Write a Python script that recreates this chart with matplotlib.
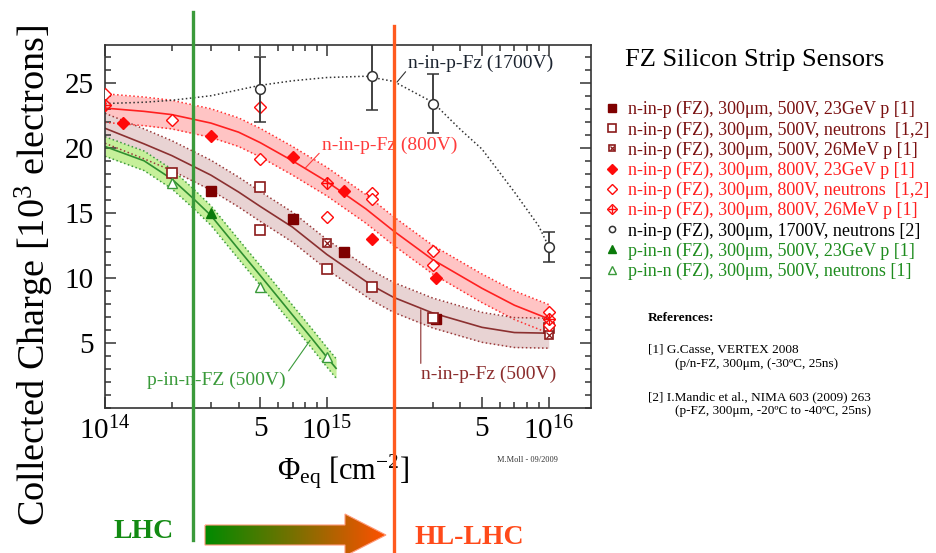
import matplotlib
matplotlib.use("Agg")
import matplotlib.pyplot as plt
import numpy as np
from matplotlib.legend_handler import HandlerTuple
from matplotlib.lines import Line2D
from matplotlib.patches import Polygon
from matplotlib.colors import LinearSegmentedColormap

plt.rcParams['font.family'] = ['Liberation Serif', 'DejaVu Serif']
plt.rcParams['mathtext.fontset'] = 'custom'
plt.rcParams['mathtext.rm'] = 'Liberation Serif'
plt.rcParams['mathtext.it'] = 'Liberation Serif:italic'
plt.rcParams['mathtext.bf'] = 'Liberation Serif:bold'
plt.rcParams['mathtext.default'] = 'regular'

# --- measured points (fluence in cm^-2, charge in 10^3 e) ---
n500_23gev_x = [3e14, 7e14, 1.2e15, 3.1e15]
n500_23gev_y = [16.7, 14.5, 12.0, 6.85]
n500_neut_x = [2e14, 5e14, 5e14, 1e15, 1.6e15, 3e15, 1e16]
n500_neut_y = [18.05, 17.0, 13.7, 10.7, 9.3, 6.95, 6.15]
n500_26mev_x = [1e15, 1e16]
n500_26mev_y = [12.7, 5.6]

n800_23gev_x = [1.2e14, 3e14, 7e14, 1.2e15, 1.6e15, 3.1e15]
n800_23gev_y = [21.9, 20.9, 19.3, 16.7, 13.0, 10.0]
n800_neut_x = [1e14, 2e14, 5e14, 5e14, 1e15, 1.6e15, 1.6e15, 3e15, 3e15, 1e16, 1e16]
n800_neut_y = [24.1, 22.1, 23.1, 19.1, 14.7, 16.5, 16.05, 12.1, 11.0, 7.4, 6.4]
n800_26mev_x = [1e14, 1e15, 1e16]
n800_26mev_y = [23.3, 17.3, 6.85]

n1700_x = [5e14, 1.6e15, 3e15, 1e16]
n1700_y = [24.5, 25.5, 23.4, 12.4]
n1700_err = [2.5, 2.6, 2.3, 1.15]

p500_23gev_x = [3e14]
p500_23gev_y = [15.0]
p500_neut_x = [2e14, 5e14, 1e15]
p500_neut_y = [17.3, 9.3, 3.9]

# --- fit curves ---
fit_red_x = [1e14, 1.5e14, 2e14, 3e14, 4e14, 5e14, 7e14, 1e15, 1.5e15, 2e15, 3e15, 5e15, 7e15, 1e16]
fit_red_y = [23.05, 22.8, 22.55, 21.9, 21.2, 20.4, 19.0, 17.4, 15.3, 13.6, 11.4, 9.2, 7.9, 6.85]
fit_red_band = 1.1
fit_brown_x = [1e14, 1.5e14, 2e14, 3e14, 4e14, 5e14, 7e14, 1e15, 1.6e15, 2e15, 3e15, 5e15, 7e15, 1e16]
fit_brown_y = [21.5, 20.3, 19.4, 17.9, 16.6, 15.5, 13.9, 11.8, 9.4, 8.5, 7.3, 6.2, 5.8, 5.75]
fit_brown_band = 1.15
fit_green_x = [1e14, 1.5e14, 2e14, 2.5e14, 3e14, 4e14, 5e14, 6e14, 7e14, 8.5e14, 1e15, 1.1e15]
fit_green_y = [20.1, 19.0, 17.6, 16.1, 14.8, 12.2, 10.2, 8.55, 7.15, 5.4, 3.9, 3.05]
fit_green_band = 0.75
fit_1700_x = [1e14, 1.5e14, 2e14, 3e14, 5e14, 7e14, 1e15, 1.5e15, 2e15, 3e15, 4e15, 5e15, 7e15, 9e15, 1e16]
fit_1700_y = [23.4, 23.5, 23.65, 24.0, 24.8, 25.15, 25.4, 25.5, 25.1, 23.5, 21.4, 19.9, 16.6, 14.0, 12.4]

lhc_fluence = 2.5e14
hllhc_fluence = 2e15

W, H = 937, 553
def fp(x, y):
    return x / W, 1 - y / H

fig = plt.figure(figsize=(9.37, 5.53), dpi=100)
ax = fig.add_axes([105 / W, 1 - 408 / H, 486 / W, 363 / H])
ax.set_xscale('log')
ax.set_xlim(1e14, 1.55e16)
ax.set_ylim(0, 27.9)

# bands + fit lines
for fx, fy, hw, fill, edge, line in [
        (fit_red_x, fit_red_y, fit_red_band, '#ffc4c4', '#ff3030', '#ff2020'),
        (fit_brown_x, fit_brown_y, fit_brown_band, '#e8d3d3', '#9a3a3a', '#8b3030'),
        (fit_green_x, fit_green_y, fit_green_band, '#c6f09a', '#3c9c3c', '#2f8f2f')]:
    fy = np.array(fy)
    ax.fill_between(fx, fy - hw, fy + hw, color=fill, lw=0, zorder=1)
    ax.plot(fx, fy - hw, ls=':', color=edge, lw=1.1, zorder=2)
    ax.plot(fx, fy + hw, ls=':', color=edge, lw=1.1, zorder=2)
    ax.plot(fx, fy, color=line, lw=1.2, zorder=2)

ax.plot(fit_1700_x, fit_1700_y, ls=':', color='#333333', lw=1.1, zorder=2)

brown = '#7f0000'
red = '#ff0a0a'
green = '#0a7a0a'
ms = 7

h1 = ax.plot(n500_23gev_x, n500_23gev_y, 's', color=brown, ms=ms, zorder=3)[0]
h2 = ax.plot(n500_neut_x, n500_neut_y, 's', mfc='white', mec='#8b1a1a', mew=1.2, ms=ms, zorder=3)[0]
h3a = ax.plot(n500_26mev_x, n500_26mev_y, 's', mfc='white', mec='#8b1a1a', mew=1.2, ms=ms - 1, zorder=3)[0]
h3b = ax.plot(n500_26mev_x, n500_26mev_y, 'x', color='#8b1a1a', mew=0.9, ms=ms - 3, zorder=3)[0]
h4 = ax.plot(n800_23gev_x, n800_23gev_y, 'D', color=red, ms=ms - 0.5, zorder=3)[0]
h5 = ax.plot(n800_neut_x, n800_neut_y, 'D', mfc='white', mec=red, mew=1.0, ms=ms - 0.5, zorder=3)[0]
h6a = ax.plot(n800_26mev_x, n800_26mev_y, 'D', mfc='none', mec=red, mew=1.0, ms=ms - 0.5, zorder=3)[0]
h6b = ax.plot(n800_26mev_x, n800_26mev_y, '+', color=red, mew=1.0, ms=ms + 1, zorder=3)[0]
eb = ax.errorbar(n1700_x, n1700_y, yerr=n1700_err, fmt='o', mfc='white', mec='#333333',
                 ecolor='#333333', elinewidth=1.3, capsize=4, capthick=1.3, ms=ms, mew=1.1, zorder=3)
h8 = ax.plot(p500_23gev_x, p500_23gev_y, '^', color=green, ms=ms, zorder=3)[0]
h9 = ax.plot(p500_neut_x, p500_neut_y, '^', mfc='white', mec='#3a9a3a', mew=1.0, ms=ms, zorder=3)[0]

# LHC / HL-LHC fluence lines, running past the frame
ax.axvline(lhc_fluence, ymin=(408 - 540) / 363, ymax=(408 - 12) / 363, color='#3a9a3a',
           lw=2.4, clip_on=False, zorder=4)
ax.axvline(hllhc_fluence, ymin=(408 - 560) / 363, ymax=(408 - 26) / 363, color='#ff5a1f',
           lw=2.4, clip_on=False, zorder=4)

# axes styling
ax.set_xticks([1e14, 5e14, 1e15, 5e15, 1e16])
ax.set_xticklabels(['$10^{14}$', '5', '$10^{15}$', '5', '$10^{16}$'])
ax.xaxis.set_minor_locator(matplotlib.ticker.LogLocator(subs=[2, 3, 4, 6, 7, 8, 9], numticks=20))
ax.xaxis.set_minor_formatter(matplotlib.ticker.NullFormatter())
ax.set_yticks([5, 10, 15, 20, 25])
ax.yaxis.set_minor_locator(matplotlib.ticker.MultipleLocator(1))
ax.tick_params(which='both', direction='in', top=True, right=True, colors='#333333',
               labelcolor='black', labelsize=21, width=1.1)
ax.tick_params(which='major', length=8, pad=6)
ax.tick_params(which='minor', length=4.5)
ax.tick_params(axis='y', pad=8)
for s in ax.spines.values():
    s.set_linewidth(1.2)
    s.set_color('#333333')

ax.set_ylabel('Collected Charge [10$^3$ electrons]', fontsize=27.5, va='center')
ax.yaxis.set_label_coords(-0.145, 0.364)
ax.set_xlabel('Φ$_{eq}$ [cm$^{-2}$]', fontsize=22)
ax.xaxis.set_label_coords(0.49, -0.175)
ax.xaxis.label.set_va('center')

# curve labels
ax.annotate('n-in-p-Fz (1700V)', xy=(2.07e15, 25.05), xytext=(2.33e15, 26.5),
            fontsize=14, color='#1c2430', va='center', ha='left',
            arrowprops=dict(arrowstyle='-', color='#333333', lw=0.8, relpos=(0, 0.2),
                            shrinkA=0, shrinkB=0))
ax.annotate('n-in-p-Fz (800V)', xy=(8.0e14, 18.45), xytext=(9.5e14, 20.2),
            fontsize=14, color='#ff3b3b', va='center', ha='left',
            arrowprops=dict(arrowstyle='-', color='#ff3b3b', lw=0.8, relpos=(0, 0.2),
                            shrinkA=0, shrinkB=0))
ax.annotate('p-in-n-FZ (500V)', xy=(8.4e14, 5.2), xytext=(1.55e14, 2.15),
            fontsize=14, color='#3a9a3a', va='center', ha='left',
            arrowprops=dict(arrowstyle='-', color='#3a9a3a', lw=0.8, relpos=(1, 0.8),
                            shrinkA=0, shrinkB=0))
ax.annotate('n-in-p-Fz (500V)', xy=(2.65e15, 7.55), xytext=(2.65e15, 2.55),
            fontsize=14, color='#8b2c2c', va='center', ha='left',
            arrowprops=dict(arrowstyle='-', color='#8b2c2c', lw=0.8, relpos=(0, 0.85),
                            shrinkA=0, shrinkB=0))

fig.text(*fp(527, 460), 'M.Moll - 09/2009', fontsize=6, ha='center', va='center', color='#333333')

# legend panel
fig.text(*fp(625, 60), 'FZ Silicon Strip Sensors', fontsize=19, ha='left', va='center')
handles = [h1, h2, (h3a, h3b), h4, h5, (h6a, h6b),
           Line2D([], [], ls='none', marker='o', mfc='white', mec='#333333', mew=1.1),
           h8, h9]
labels = ['n-in-p (FZ), 300μm, 500V, 23GeV p [1]',
          'n-in-p (FZ), 300μm, 500V, neutrons  [1,2]',
          'n-in-p (FZ), 300μm, 500V, 26MeV p [1]',
          'n-in-p (FZ), 300μm, 800V, 23GeV p [1]',
          'n-in-p (FZ), 300μm, 800V, neutrons  [1,2]',
          'n-in-p (FZ), 300μm, 800V, 26MeV p [1]',
          'n-in-p (FZ), 300μm, 1700V, neutrons [2]',
          'p-in-n (FZ), 300μm, 500V, 23GeV p [1]',
          'p-in-n (FZ), 300μm, 500V, neutrons [1]']
label_colors = ['#7a1010'] * 3 + ['#ff2020'] * 3 + ['black'] + ['#1e8c1e'] * 2
fig.legend(handles, labels, loc='upper left', bbox_to_anchor=fp(603, 101), frameon=False,
           fontsize=13, labelcolor=label_colors, handlelength=1.0, handletextpad=0.4,
           borderpad=0, borderaxespad=0, labelspacing=0.16, markerscale=0.75,
           handler_map={tuple: HandlerTuple(ndivide=1)})

fig.text(*fp(648, 318), 'References:', fontsize=9.5, fontweight='bold', ha='left', va='center')
fig.text(*fp(648, 350), '[1] G.Casse, VERTEX 2008', fontsize=9.5, ha='left', va='center')
fig.text(*fp(675, 364), '(p/n-FZ, 300μm, (-30ºC, 25ns)', fontsize=9.5, ha='left', va='center')
fig.text(*fp(648, 397), '[2] I.Mandic et al., NIMA 603 (2009) 263', fontsize=9.5, ha='left', va='center')
fig.text(*fp(675, 411), '(p-FZ, 300μm, -20ºC to -40ºC, 25ns)', fontsize=9.5, ha='left', va='center')

# bottom: LHC -> HL-LHC arrow
fig.text(*fp(144, 532), 'LHC', fontsize=20, fontweight='bold', color='#128a12', ha='center', va='center')
fig.text(*fp(469, 537), 'HL-LHC', fontsize=20, fontweight='bold', color='#ff4a1a', ha='center', va='center')

ov = fig.add_axes([0, 0, 1, 1])
cmap = LinearSegmentedColormap.from_list('lhc', ['#008a00', '#7a7000', '#ff5000'])
grad = np.linspace(0, 1, 256).reshape(1, -1)
im = ov.imshow(grad, extent=(205, 386, 556, 514), cmap=cmap, aspect='auto', zorder=1)
arrow = Polygon([(205, 525), (345, 525), (345, 514), (386, 535), (345, 556), (345, 545), (205, 545)],
                closed=True, facecolor='none', edgecolor='#ff9a7a', lw=0.8, zorder=2)
ov.add_patch(arrow)
im.set_clip_path(arrow)
ov.set_xlim(0, W)
ov.set_ylim(H, 0)
ov.axis('off')

fig.savefig('out.png', dpi=100)
